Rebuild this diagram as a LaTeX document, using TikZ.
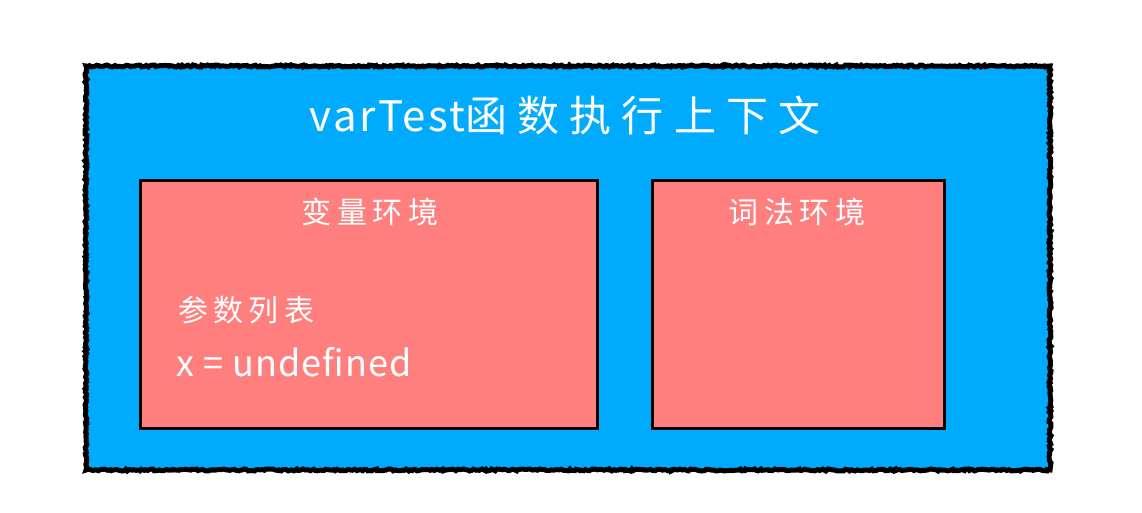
\documentclass[tikz,border=0pt]{standalone}
\usepackage{fontspec}
\setmainfont{Noto Sans CJK SC}
\usetikzlibrary{decorations.pathmorphing}

\definecolor{ctxblue}{HTML}{00ABFE}
\definecolor{envred}{HTML}{FF7F7F}

\begin{document}
\begin{tikzpicture}[x=1pt,y=-1pt]
  \def\W{1142}
  \def\H{513}
  \def\XCTXSTART{86}
  \def\XCTXEND{1050}
  \def\YCTXSTART{66}
  \def\YCTXEND{470}
  \def\YENVSTART{181}
  \def\YENVEND{428}
  \def\XVARSTART{140}
  \def\XVAREND{597}
  \def\XLEXSTART{652}
  \def\XLEXEND{944}

  \tikzset{
      rough/.style={draw=black,line width=5pt,decorate,
        decoration={random steps,segment length=2pt,amplitude=1pt}},
      envbox/.style={draw=black,line width=3pt,fill=envred},
      label/.style={text=white,inner sep=0pt},
      cjklabel/.style={label,
        font=\fontsize{30}{36}\selectfont\addfontfeature{LetterSpace=18}},
  }

  \useasboundingbox (0,0) rectangle (\W,\H);

  % outer context
  \fill [ctxblue] (\XCTXSTART,\YCTXSTART) rectangle (\XCTXEND,\YCTXEND);
  \draw [rough] (\XCTXSTART,\YCTXSTART) rectangle (\XCTXEND,\YCTXEND);
  \node [label,font=\fontsize{42}{50}\selectfont]
    (title) at (565,115) {{\addfontfeature{LetterSpace=6}varTest}%
      {\addfontfeature{LetterSpace=24}函数执行上下文}};

  % environments
  \draw [envbox] (\XVARSTART,\YENVSTART) rectangle (\XVAREND,\YENVEND);
  \draw [envbox] (\XLEXSTART,\YENVSTART) rectangle (\XLEXEND,\YENVEND);
  \node [cjklabel] (varenv) at (370,212) {变量环境};
  \node [cjklabel] (lexenv) at (797,212) {词法环境};

  \node [cjklabel,anchor=west] (params) at (178,310) {参数列表};
  \node [label,anchor=west,font=\fontsize{36}{42}\selectfont\addfontfeature{LetterSpace=3}]
    (xval) at (176,362) {x = undefined};
\end{tikzpicture}
\end{document}
